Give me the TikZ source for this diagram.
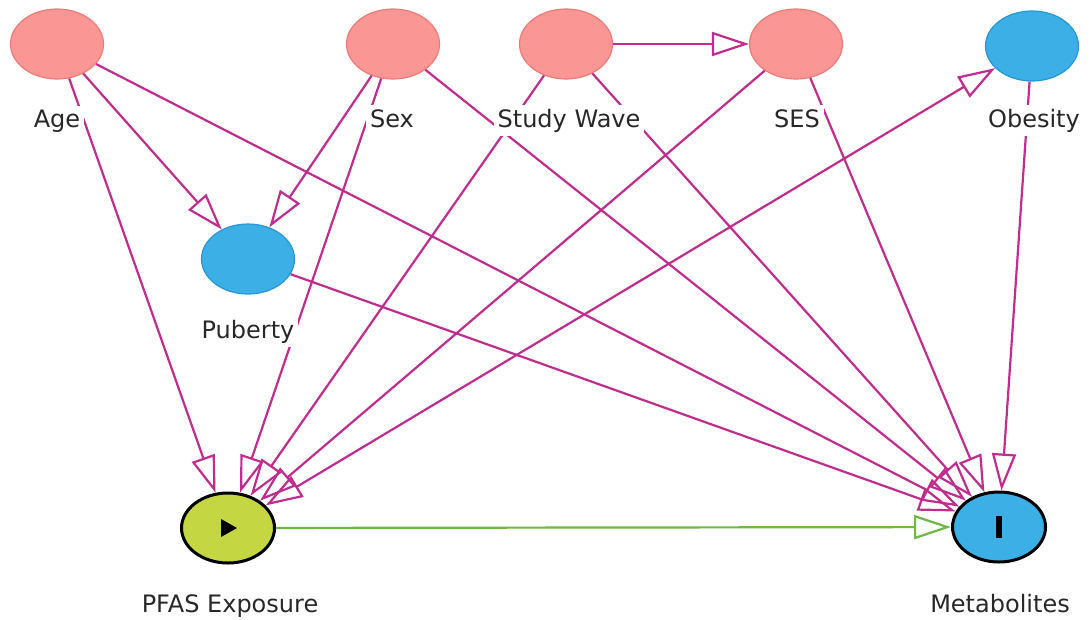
\documentclass[tikz,border=0pt]{standalone}
\usepackage{fontspec}
\setmainfont{DejaVu Sans}
\usetikzlibrary{arrows.meta,shapes.geometric,calc}
\definecolor{edgec}{RGB}{192,45,142}
\definecolor{grn}{RGB}{110,185,70}
\definecolor{redf}{RGB}{250,150,148}
\definecolor{redd}{RGB}{235,125,120}
\definecolor{bluef}{RGB}{60,175,230}
\definecolor{blued}{RGB}{40,150,210}
\definecolor{yelf}{RGB}{196,214,66}
\definecolor{txt}{RGB}{40,40,40}
\begin{document}
\begin{tikzpicture}[x=1pt,y=-1pt,
  var/.style={ellipse, minimum width=93pt, minimum height=70pt, inner sep=0pt, line width=1.2pt},
  adj/.style={var, fill=redf, draw=redd},
  med/.style={var, fill=bluef, draw=blued},
  lab/.style={fill=white, text=txt, inner sep=4pt, font=\fontsize{24}{28}\selectfont, anchor=base},
  e/.style={draw=edgec, line width=2.2pt, -{Triangle[open,length=37pt,width=24pt]}},
  be/.style={draw=edgec, line width=2.2pt, {Triangle[open,length=37pt,width=24pt]}-{Triangle[open,length=37pt,width=24pt]}},
  ge/.style={draw=grn, line width=2.2pt, -{Triangle[open,length=37pt,width=24pt]}},
  ]
\useasboundingbox (0,0) rectangle (1091,619);
\fill[white] (0,0) rectangle (1091,619);
% nodes
\node[adj] (age) at (57,44) {};
\node[adj] (sex) at (393,44) {};
\node[adj] (wave) at (566,44) {};
\node[adj] (ses) at (796,44) {};
\node[med] (obe) at (1032,46) {};
\node[med] (pub) at (248,259) {};
\node[var, fill=yelf, draw=black, line width=3pt] (pfas) at (228,528) {};
\node[var, fill=bluef, draw=black, line width=3pt] (met) at (999,527) {};
% edges
\draw[e] (age) -- (pub);
\draw[e] (age) -- (pfas);
\draw[e] (age) -- (met);
\draw[e] (sex) -- (pub);
\draw[e] (sex) -- (pfas);
\draw[e] (sex) -- (met);
\draw[e] (wave) -- (ses);
\draw[e] (wave) -- (pfas);
\draw[e] (wave) -- (met);
\draw[e] (ses) -- (pfas);
\draw[e] (ses) -- (met);
\draw[be] (pfas) -- (obe);
\draw[e] (obe) -- (met);
\draw[e] (pub) -- (met);
\draw[ge] (pfas) -- (met);
% symbols
\fill[black] ($(pfas)+(-7,-9)$) -- ($(pfas)+(9,0)$) -- ($(pfas)+(-7,9)$) -- cycle;
\fill[black] ($(met)+(-3,-11)$) rectangle ($(met)+(3,11)$);
% labels
\node[lab] (agel) at (57,127) {Age};
\node[lab] (sexl) at (392,127) {Sex};
\node[lab] (wavel) at (569,127) {Study Wave};
\node[lab] (sesl) at (797,127) {SES};
\node[lab] (obel) at (1034,127) {Obesity};
\node[lab] (publ) at (248,338) {Puberty};
\node[lab] (pfasl) at (230,612) {PFAS Exposure};
\node[lab] (metl) at (1000,612) {Metabolites};
\end{tikzpicture}
\end{document}
